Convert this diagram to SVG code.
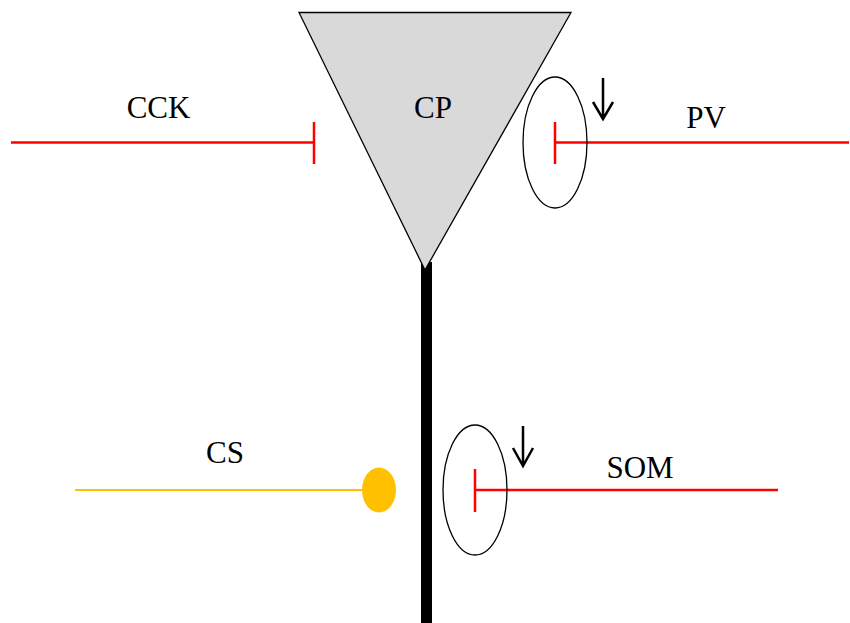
<svg xmlns="http://www.w3.org/2000/svg" width="850" height="623" viewBox="0 0 850 623">
<style>
text{font-family:"Liberation Serif","Times New Roman",serif;font-size:31px;fill:#000;text-anchor:middle}
.red{stroke:#ff0000;stroke-width:2.5;fill:none}
.ell{stroke:#000;stroke-width:1.3;fill:none}
.arr{stroke:#000;stroke-width:2.5;fill:none}
</style>
<rect width="850" height="623" fill="#fff"/>
<g id="axon"><rect x="421" y="262" width="11" height="361" fill="#000"/></g>
<g id="CP">
<polygon points="299,12.5 571,12.5 425,270" fill="#d9d9d9" stroke="#000" stroke-width="1.3"/>
<text x="433" y="118">CP</text>
</g>
<g id="connectors">
<g id="CCK-line"><path class="red" d="M11,142.5 H314 M314,122 V164"/></g>
<g id="PV-line"><path class="red" d="M849,142.5 H555 M555,122 V164"/></g>
<g id="SOM-line"><path class="red" d="M778,490 H475 M475,469 V512"/></g>
<g id="CS-line"><path d="M75,490 H366" stroke="#ffc000" stroke-width="2"/></g>
</g>
<g id="CCK"><text x="158.5" y="117.5">CCK</text></g>
<g id="PV">
<ellipse class="ell" cx="555" cy="142.5" rx="32" ry="65.5"/>
<path class="arr" d="M603,78 V119 M593,102 L603,119 L613,102"/>
<text x="706" y="128">PV</text>
</g>
<g id="SOM">
<ellipse class="ell" cx="475" cy="490" rx="32" ry="65"/>
<path class="arr" d="M523,426 V466 M513,448 L523,466 L533,448"/>
<text x="640" y="477.5">SOM</text>
</g>
<g id="CS">
<ellipse cx="379" cy="490" rx="17" ry="22.5" fill="#ffc000"/>
<text x="225" y="463">CS</text>
</g>
</svg>
